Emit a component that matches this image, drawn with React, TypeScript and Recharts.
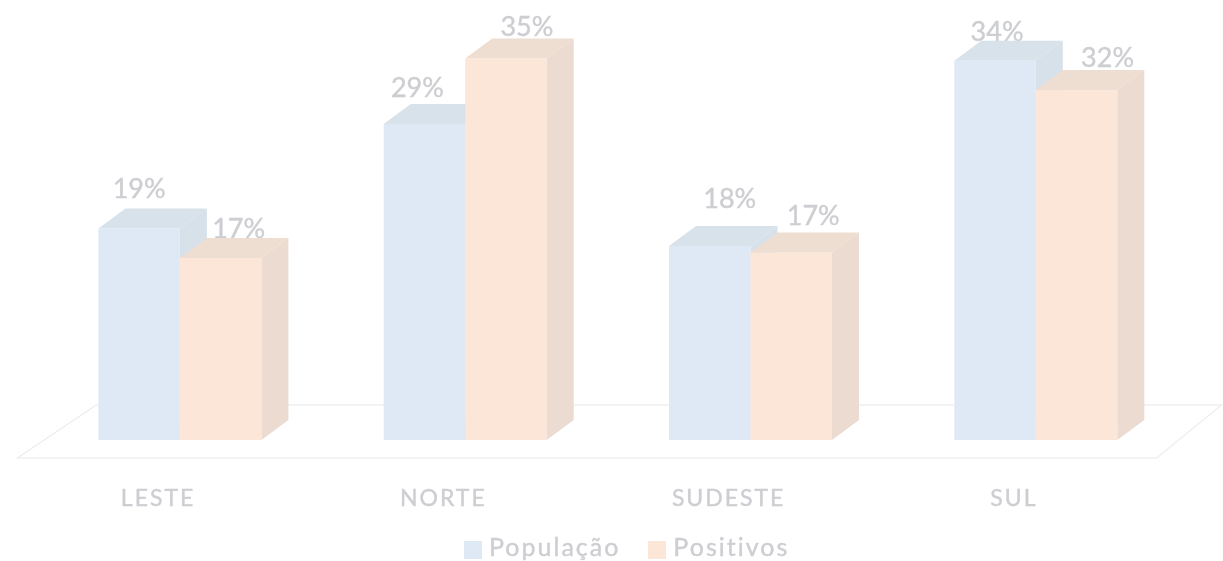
import { BarChart, Bar, XAxis, YAxis, Legend, usePlotArea } from 'recharts'

const categories = ['LESTE', 'NORTE', 'SUDESTE', 'SUL']
const populacao = [19.4, 29, 17.8, 34.8]
const positivos = [16.7, 35, 17.2, 32.1]
const populacaoLabels = ['19%', '29%', '18%', '34%']
const positivosLabels = ['17%', '35%', '17%', '32%']

// hand placed labels, excel dropped them wherever they fit
const populacaoNudge = [[0, -41], [-7, -37], [20, -48], [2, -30]]
const positivosNudge = [[18, -30], [21, -33], [22, -38], [31, -34]]

const data = categories.map((name, i) => ({ name, populacao: populacao[i], positivos: positivos[i] }))

const DEPTH_X = 27
const DEPTH_Y = 20
const FONT = 'Lato, "Open Sans", sans-serif'
const TEXT = '#cdced2'

const BLUE = { front: '#dee9f5', side: '#d6e1ea', top: '#d7e2eb' }
const ORANGE = { front: '#fbe6d8', side: '#ebdbd1', top: '#eeddd1' }

function makeBox(colors: typeof BLUE, labels: string[], nudge: number[][]) {
  return function Box(props: any) {
    const { x, y, width, height, index } = props
    const right = x + width
    const bottom = y + height
    return (
      <g>
        <text x={x + width / 2 + nudge[index][0]} y={y + nudge[index][1]} textAnchor="middle"
          dominantBaseline="central" fontSize={27} fontFamily={FONT} fill={TEXT} stroke={TEXT} strokeWidth={0.4}>
          {labels[index]}
        </text>
        <polygon fill={colors.top}
          points={`${x},${y} ${right},${y} ${right + DEPTH_X},${y - DEPTH_Y} ${x + DEPTH_X},${y - DEPTH_Y}`} />
        <polygon fill={colors.side}
          points={`${right},${y} ${right + DEPTH_X},${y - DEPTH_Y} ${right + DEPTH_X},${bottom - DEPTH_Y} ${right},${bottom}`} />
        <rect x={x} y={y} width={width} height={height} fill={colors.front} />
      </g>
    )
  }
}

function Floor() {
  const plot = usePlotArea()
  if (!plot) return null
  const base = plot.y + plot.height
  const end = plot.x + plot.width
  return (
    <polygon fill="none" stroke="#efefef" strokeWidth={1.5}
      points={`${plot.x - 20},${base + 18} ${end - 22},${base + 18} ${end + 43},${base - 35} ${plot.x + 59},${base - 35}`} />
  )
}

function CategoryTick({ x, y, payload }: any) {
  return (
    <text x={x - 22} y={y + 49} textAnchor="middle" dominantBaseline="central" fontSize={23}
      letterSpacing={2} fontFamily={FONT} fill={TEXT} stroke={TEXT} strokeWidth={0.4}>
      {payload.value}
    </text>
  )
}

export default function App() {
  return (
    <div style={{ position: 'absolute', left: 0, top: 0, filter: 'blur(0.5px)' }}>
      <BarChart width={1223} height={561} data={data} barSize={81.5} barGap={0}
        margin={{ top: 4, right: 44.4, left: 37.4, bottom: 0 }}>
        <Floor />
        <XAxis dataKey="name" axisLine={false} tickLine={false} height={95} tick={<CategoryTick />} interval={0} />
        <YAxis hide domain={[0, 40]} />
        <Legend verticalAlign="bottom" iconType="square" iconSize={18}
          wrapperStyle={{ left: 464, width: 'auto', bottom: 2, fontFamily: FONT, fontSize: 25, lineHeight: '26px', letterSpacing: 2 }}
          formatter={(value) => (
            <span style={{ color: TEXT, marginLeft: 3, marginRight: 18, WebkitTextStroke: `0.4px ${TEXT}` }}>{value}</span>
          )} />
        <Bar dataKey="populacao" name="População" fill={BLUE.front} isAnimationActive={false}
          shape={makeBox(BLUE, populacaoLabels, populacaoNudge)} />
        <Bar dataKey="positivos" name="Positivos" fill={ORANGE.front} isAnimationActive={false}
          shape={makeBox(ORANGE, positivosLabels, positivosNudge)} />
      </BarChart>
    </div>
  )
}
